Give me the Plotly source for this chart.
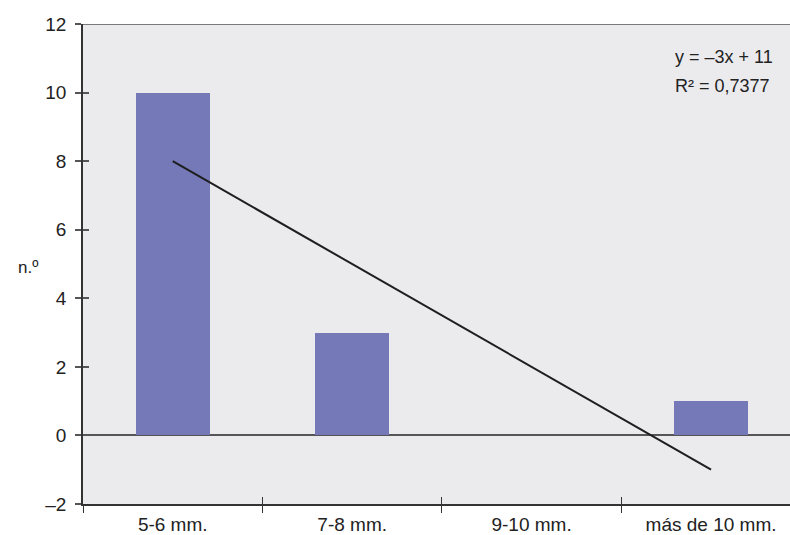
import plotly.graph_objects as go

categories = ["5-6 mm.", "7-8 mm.", "9-10 mm.", "más de 10 mm."]
counts = [10, 3, 0, 1]
trend_slope = -3
trend_intercept = 11
r2_text = "0,7377"
y_ticks = [-2, 0, 2, 4, 6, 8, 10, 12]
y_ticktext = ["–2", "0", "2", "4", "6", "8", "10", "12"]
boundaries = [-0.5, 0.5, 1.5, 2.5, 3.5]

trend_x = [0, 3]
trend_y = [trend_slope * (i + 1) + trend_intercept for i in trend_x]

XR = [-0.5, 3.44]
YR = [-2, 12]

fig = go.Figure()
fig.add_trace(go.Bar(
    x=list(range(len(categories))), y=counts, width=0.41,
    marker=dict(color="#7579b8", line=dict(width=0)),
    showlegend=False, hoverinfo="skip",
))
fig.add_trace(go.Scatter(
    x=trend_x, y=trend_y, mode="lines",
    line=dict(color="#1e1e1e", width=2),
    showlegend=False, hoverinfo="skip",
))
# invisible traces to activate overlay axes
fig.add_trace(go.Scatter(x=[0], y=[None], xaxis="x2", yaxis="y", showlegend=False, hoverinfo="skip"))
fig.add_trace(go.Scatter(x=[0], y=[None], xaxis="x3", yaxis="y2", showlegend=False, hoverinfo="skip"))

font = dict(family="Liberation Sans, Arial, sans-serif", size=18, color="#222")

fig.update_layout(
    width=790, height=535,
    margin=dict(l=83, r=0, t=24, b=27),
    paper_bgcolor="white",
    plot_bgcolor="#ebebee",
    font=font,
    bargap=0,
    xaxis=dict(
        range=XR,
        tickmode="array", tickvals=boundaries, ticktext=[""] * len(boundaries),
        ticks="outside", ticklen=7, tickwidth=1, tickcolor="#333",
        showline=True, linecolor="#333", linewidth=1.5,
        showgrid=False, zeroline=False,
    ),
    xaxis2=dict(
        overlaying="x", side="bottom", range=XR,
        tickmode="array", tickvals=list(range(len(categories))), ticktext=categories,
        ticks="outside", ticklen=3, tickcolor="rgba(0,0,0,0)",
        showline=False, showgrid=False, zeroline=False,
        tickfont=dict(size=19),
    ),
    xaxis3=dict(
        overlaying="x", side="bottom", range=XR,
        tickmode="array", tickvals=boundaries, ticktext=[""] * len(boundaries),
        ticks="inside", ticklen=7, tickwidth=1, tickcolor="#333",
        showline=False, showgrid=False, zeroline=False, showticklabels=False,
    ),
    yaxis=dict(
        range=YR,
        tickmode="array", tickvals=y_ticks, ticktext=y_ticktext,
        ticks="outside", ticklen=6, tickwidth=1.5, tickcolor="#555",
        ticklabelstandoff=5,
        showline=True, linecolor="#333", linewidth=1.5,
        showgrid=False, zeroline=True, zerolinecolor="#555", zerolinewidth=1.5,
        tickfont=dict(size=19),
    ),
    yaxis2=dict(
        overlaying="y", side="left", range=YR,
        tickmode="array", tickvals=y_ticks,
        ticks="inside", ticklen=6, tickwidth=1.5, tickcolor="#555",
        showticklabels=False, showline=False, showgrid=False, zeroline=False,
    ),
    shapes=[
        dict(type="line", xref="paper", yref="y", x0=0, x1=1, y0=12, y1=12,
             line=dict(color="#555", width=1.5)),
    ],
    annotations=[
        dict(text="n.º", xref="paper", yref="paper", x=-0.0785, y=0.493,
             xanchor="center", yanchor="middle", showarrow=False, font=dict(size=17)),
        dict(text="y = –3x + 11", xref="paper", yref="paper",
             x=0.8345, y=0.932, xanchor="left", yanchor="middle", align="left",
             showarrow=False, font=dict(size=18)),
        dict(text="R² = " + r2_text, xref="paper", yref="paper",
             x=0.8345, y=0.871, xanchor="left", yanchor="middle", align="left",
             showarrow=False, font=dict(size=18)),
    ],
)

fig.write_html("out.html", config={"displayModeBar": False},
               post_script="document.body.style.margin='0';")
